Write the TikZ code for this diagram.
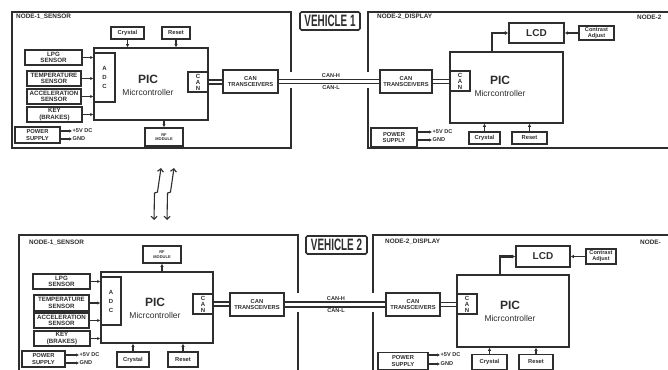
\documentclass[tikz,border=0pt]{standalone}
\usepackage{fontspec}
\setmainfont{Liberation Sans}
\usetikzlibrary{arrows.meta,calc}
\definecolor{lc}{HTML}{2E2E2E}
\newcommand{\fz}[2]{\fontsize{#1}{#2}\selectfont}
\begin{document}
\begin{tikzpicture}[x=1pt,y=-1pt,
  box/.style={draw=lc, line width=1.5pt, fill=white, inner sep=0pt, align=center, text=lc},
  sens/.style={box, line width=1.9pt, font=\bfseries\fz{6.2}{6.6}},
  small/.style={box, font=\bfseries\fz{5.8}{6.4}},
  tiny/.style={box, font=\bfseries\fz{4}{4.6}},
  vert/.style={box, font=\bfseries\fz{6}{6}},
  vehbox/.style={box, line width=1.6pt, rounded corners=1.5pt, font=\bfseries\fz{16.5}{16.5}},
  pictxt/.style={align=center, text=lc, inner sep=0pt},
  lbl/.style={text=lc, inner sep=0.5pt, font=\bfseries\fz{5.6}{6}},
  nodelbl/.style={text=lc, inner sep=0pt, anchor=west, font=\bfseries\fz{6.4}{7}},
  frame/.style={draw=lc, line width=1.4pt},
  arr/.style={draw=lc, line width=1.1pt, -{Latex[length=3pt,width=3.4pt]}},
  thickarr/.style={draw=lc, line width=2.2pt, -{Latex[length=3.5pt,width=4.5pt]}},
  busline/.style={draw=lc, line width=1.2pt},
  warr/.style={draw=lc, line width=1.1pt, {Straight Barb[length=3pt,width=6pt]}-{Straight Barb[length=3pt,width=6pt]}}
]
\useasboundingbox (0,0) rectangle (668,369);
\clip (0,0) rectangle (668,369);
\fill[white] (0,0) rectangle (668,369);

% ================= VEHICLE 1 =================
\draw[frame] (291,72) -- (291,12) -- (12,12) -- (12,148) -- (291,148) -- (291,88);
\draw[frame] (368,72) -- (368,12) -- (680,12);
\draw[frame] (368,88) -- (368,148) -- (680,148);
\node[vehbox, minimum width=60, minimum height=18] (veh1) at (330,21) {\scalebox{0.6}[1]{VEHICLE 1}};
\node[nodelbl] (n1a) at (16,17) {NODE-1\_SENSOR};
\node[nodelbl] (n2a) at (377,17) {NODE-2\_DISPLAY};
\node[nodelbl] (n2b) at (637,17) {NODE-2};

% node 1
\node[small, minimum width=33, minimum height=12] (crys1) at (127.5,33) {Crystal};
\node[small, minimum width=28, minimum height=12] (rst1) at (176,33) {Reset};
\node[box, minimum width=114, minimum height=72] (pic1) at (151,84) {};
\node[pictxt] (pic1t) at (148,85) {\bfseries\fz{12}{11}PIC\\\fz{8.5}{9}Micrcontroller};
\node[box, minimum width=21, minimum height=49, font=\bfseries\fz{6}{9}] (adc1) at (104.5,77.5) {A\\D\\C};
\node[vert, minimum width=20, minimum height=20] (can1) at (198,82) {C\\A\\N};
\node[sens, minimum width=57, minimum height=15] (lpg1) at (53.5,57.5) {LPG\\SENSOR};
\node[sens, minimum width=54, minimum height=15] (temp1) at (54,78.5) {TEMPERATURE\\SENSOR};
\node[sens, minimum width=54, minimum height=15] (acc1) at (54,96.5) {ACCELERATION\\SENSOR};
\node[sens, minimum width=55, minimum height=15] (key1) at (54.5,114.5) {KEY\\(BRAKES)};
\node[small, minimum width=45, minimum height=16] (pwr1) at (37.5,135) {POWER\\SUPPLY};
\node[lbl, anchor=west] (v1) at (72,131) {+5V DC};
\node[lbl, anchor=west] (g1) at (72,139) {GND};
\node[tiny, minimum width=38, minimum height=18] (rf1) at (164,137) {RF\\MODULE};
\node[small, minimum width=55, minimum height=23] (ct1) at (250.5,81.5) {CAN\\TRANSCEIVERS};

\draw[arr] (crys1.south) -- (crys1.south |- pic1.north);
\draw[arr] (rst1.south) -- (rst1.south |- pic1.north);
\draw[arr] (lpg1.east) -- (lpg1.east -| pic1.west);
\draw[arr] (temp1.east) -- (temp1.east -| pic1.west);
\draw[arr] (acc1.east) -- (acc1.east -| pic1.west);
\draw[arr] (key1.east) -- (key1.east -| pic1.west);
\draw[arr] (pwr1.east |- v1) -- (v1.west);
\draw[arr] (pwr1.east |- g1) -- (g1.west);
\draw[arr] (rf1.north |- pic1.south) -- (rf1.north);
\draw[busline] ([yshift=2pt]can1.east) -- ([yshift=2pt]can1.east -| ct1.west);
\draw[busline] ([yshift=-2pt]can1.east) -- ([yshift=-2pt]can1.east -| ct1.west);

% node 2
\node[small, minimum width=52, minimum height=23] (ct2) at (406,81.5) {CAN\\TRANSCEIVERS};
\node[box, minimum width=113, minimum height=71] (pic2) at (506.5,87.5) {};
\node[pictxt] (pic2t) at (500,86) {\bfseries\fz{12}{11}PIC\\\fz{8.5}{9}Micrcontroller};
\node[vert, minimum width=20, minimum height=20] (can2) at (460,81) {C\\A\\N};
\node[box, minimum width=55, minimum height=20, font=\bfseries\fz{10}{10}] (lcd1) at (536.5,33) {LCD};
\node[small, minimum width=35, minimum height=14, font=\bfseries\fz{5.6}{6}] (cadj1) at (596.5,33) {Contrast\\Adjust};
\node[small, minimum width=31, minimum height=12] (crys2) at (484.5,138) {Crystal};
\node[small, minimum width=35, minimum height=12] (rst2) at (529.5,138) {Reset};
\node[small, minimum width=46, minimum height=19] (pwr2) at (394,137.5) {POWER\\SUPPLY};
\node[lbl, anchor=west] (v2) at (432,132) {+5V DC};
\node[lbl, anchor=west] (g2) at (432,140) {GND};

\draw[busline] ([yshift=2pt]ct1.east) -- ([yshift=2pt]ct2.west);
\draw[busline] ([yshift=-2pt]ct1.east) -- ([yshift=-2pt]ct2.west);
\node[lbl] (canh1) at (331,75.5) {CAN-H};
\node[lbl] (canl1) at (331,88) {CAN-L};
\draw[busline] ([yshift=2pt]ct2.east) -- ([yshift=2pt]ct2.east -| can2.west);
\draw[busline] ([yshift=-2pt]ct2.east) -- ([yshift=-2pt]ct2.east -| can2.west);
\draw[thickarr] ($(pic2.north west)+(43,0)$) |- (lcd1.west);
\draw[arr] (cadj1.west) -- (lcd1.east);
\draw[arr] (crys2.north) -- (crys2.north |- pic2.south);
\draw[arr] (rst2.north) -- (rst2.north |- pic2.south);
\draw[arr] (pwr2.east |- v2) -- (v2.west);
\draw[arr] (pwr2.east |- g2) -- (g2.west);

% ================= wireless link =================
\coordinate (wa1) at (161,168);
\coordinate (wa2) at (157.5,192);
\coordinate (wa3) at (154.5,193);
\coordinate (wa4) at (154,220);
\coordinate (wb1) at (174,168);
\coordinate (wb2) at (170.5,192);
\coordinate (wb3) at (167.5,193);
\coordinate (wb4) at (167,220);
\draw[warr] (wa1) -- (wa2) -- (wa3) -- (wa4);
\draw[warr] (wb1) -- (wb2) -- (wb3) -- (wb4);

% ================= VEHICLE 2 =================
\draw[frame] (298,293) -- (298,235) -- (19,235) -- (19,380);
\draw[frame] (298,312) -- (298,380);
\draw[frame] (373,293) -- (373,235) -- (680,235);
\draw[frame] (373,312) -- (373,380);
\node[vehbox, minimum width=61, minimum height=18] (veh2) at (336.5,245) {\scalebox{0.6}[1]{VEHICLE 2}};
\node[nodelbl] (n1c) at (29,243) {NODE-1\_SENSOR};
\node[nodelbl] (n2c) at (385,242) {NODE-2\_DISPLAY};
\node[nodelbl] (n2d) at (640,242) {NODE-};

% node 1
\node[tiny, minimum width=38, minimum height=17] (rf3) at (162,254.5) {RF\\MODULE};
\node[box, minimum width=112, minimum height=71] (pic3) at (157,307.5) {};
\node[pictxt] (pic3t) at (155,308) {\bfseries\fz{12}{11}PIC\\\fz{8.5}{9}Micrcontroller};
\node[box, minimum width=20, minimum height=48, font=\bfseries\fz{6}{9}] (adc3) at (111,301) {A\\D\\C};
\node[vert, minimum width=20, minimum height=20] (can3) at (203,304) {C\\A\\N};
\node[sens, minimum width=57, minimum height=15] (lpg3) at (61.5,281.5) {LPG\\SENSOR};
\node[sens, minimum width=55, minimum height=16] (temp3) at (61.5,303) {TEMPERATURE\\SENSOR};
\node[sens, minimum width=55, minimum height=15] (acc3) at (61.5,320.5) {ACCELERATION\\SENSOR};
\node[sens, minimum width=56, minimum height=15] (key3) at (62,338.5) {KEY\\(BRAKES)};
\node[small, minimum width=43, minimum height=16] (pwr3) at (43.5,359) {POWER\\SUPPLY};
\node[lbl, anchor=west] (v3) at (79,355) {+5V DC};
\node[lbl, anchor=west] (g3) at (79,363) {GND};
\node[small, minimum width=32, minimum height=15] (crys3) at (133,359.5) {Crystal};
\node[small, minimum width=30, minimum height=15] (rst3) at (183,359.5) {Reset};
\node[small, minimum width=54, minimum height=23] (ct3) at (257,304.5) {CAN\\TRANSCEIVERS};

\draw[arr] (rf3.south |- pic3.north) -- (rf3.south);
\draw[arr] (lpg3.east) -- (lpg3.east -| pic3.west);
\draw[arr] (temp3.east) -- (temp3.east -| pic3.west);
\draw[arr] (acc3.east) -- (acc3.east -| pic3.west);
\draw[arr] (key3.east) -- (key3.east -| pic3.west);
\draw[arr] (pwr3.east |- v3) -- (v3.west);
\draw[arr] (pwr3.east |- g3) -- (g3.west);
\draw[arr] (crys3.north) -- (crys3.north |- pic3.south);
\draw[arr] (rst3.north) -- (rst3.north |- pic3.south);
\draw[busline] ([yshift=2pt]can3.east) -- ([yshift=2pt]can3.east -| ct3.west);
\draw[busline] ([yshift=-2pt]can3.east) -- ([yshift=-2pt]can3.east -| ct3.west);

% node 2
\node[small, minimum width=54, minimum height=23] (ct4) at (413,304.5) {CAN\\TRANSCEIVERS};
\node[box, minimum width=112, minimum height=72] (pic4) at (513,311) {};
\node[pictxt] (pic4t) at (510,311) {\bfseries\fz{12}{11}PIC\\\fz{8.5}{9}Micrcontroller};
\node[vert, minimum width=20, minimum height=20] (can4) at (467,304) {C\\A\\N};
\node[box, minimum width=54, minimum height=21, font=\bfseries\fz{10}{10}] (lcd4) at (543,256.5) {LCD};
\node[small, minimum width=30, minimum height=15, font=\bfseries\fz{5.6}{6}] (cadj4) at (601,256.5) {Contrast\\Adjust};
\node[small, minimum width=35, minimum height=15] (crys4) at (489.5,362) {Crystal};
\node[small, minimum width=34, minimum height=15] (rst4) at (536,362) {Reset};
\node[small, minimum width=50, minimum height=17] (pwr4) at (403,361) {POWER\\SUPPLY};
\node[lbl, anchor=west] (v4) at (440,355) {+5V DC};
\node[lbl, anchor=west] (g4) at (440,364) {GND};

\draw[busline] ([yshift=2.5pt]ct3.east) -- ([yshift=2.5pt]ct4.west);
\draw[busline] ([yshift=-2.5pt]ct3.east) -- ([yshift=-2.5pt]ct4.west);
\node[lbl] (canh2) at (336,299) {CAN-H};
\node[lbl] (canl2) at (336,311) {CAN-L};
\draw[busline] ([yshift=2pt]ct4.east) -- ([yshift=2pt]ct4.east -| can4.west);
\draw[busline] ([yshift=-2pt]ct4.east) -- ([yshift=-2pt]ct4.east -| can4.west);
\draw[thickarr] ($(pic4.north west)+(44,0)$) |- (lcd4.west);
\draw[arr] (cadj4.west) -- (lcd4.east);
\draw[arr] (crys4.north) -- (crys4.north |- pic4.south);
\draw[arr] (rst4.north) -- (rst4.north |- pic4.south);
\draw[arr] (pwr4.east |- v4) -- (v4.west);
\draw[arr] (pwr4.east |- g4) -- (g4.west);
\end{tikzpicture}
\end{document}
